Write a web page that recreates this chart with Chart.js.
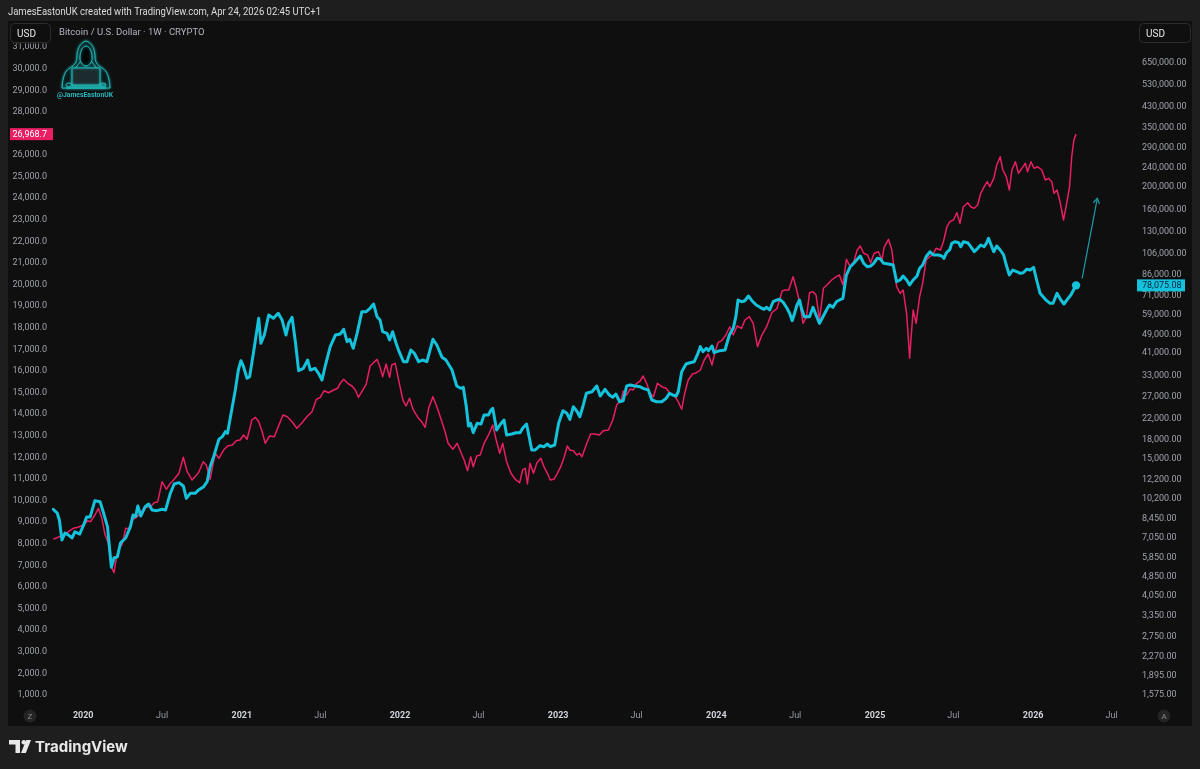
<!DOCTYPE html>
<html>
<head>
<meta charset="utf-8">
<script src="https://cdn.jsdelivr.net/npm/chart.js@4.4.1/dist/chart.umd.min.js"></script>
<style>
html,body{margin:0;padding:0;background:#1e1e1e;width:1200px;height:769px;overflow:hidden}
canvas{display:block}
</style>
</head>
<body>
<canvas id="c" width="1200" height="769"></canvas>
<script>
// ---- Data ----
const btcDates = ['2019-10-24','2019-11-02','2019-11-07','2019-11-13','2019-11-20','2019-11-28','2019-12-06','2019-12-13','2019-12-24',
'2020-01-02','2020-01-09','2020-01-17','2020-01-28','2020-02-09','2020-02-17','2020-02-26','2020-03-06','2020-03-12','2020-03-20','2020-03-27',
'2020-04-08','2020-04-19','2020-04-25','2020-05-01','2020-05-06','2020-05-13','2020-05-23','2020-05-31','2020-06-08','2020-06-19','2020-07-01',
'2020-07-09','2020-07-20','2020-07-29','2020-08-09','2020-08-19','2020-08-26','2020-09-04','2020-09-15','2020-09-23','2020-10-05','2020-10-13',
'2020-10-20','2020-10-28','2020-11-09','2020-11-17','2020-11-24','2020-11-29','2020-12-10','2020-12-17','2020-12-24','2020-12-30',
'2021-01-05','2021-01-13','2021-01-19','2021-01-30','2021-02-09','2021-02-14','2021-02-22','2021-03-04','2021-03-15','2021-03-26','2021-04-04',
'2021-04-13','2021-04-19','2021-04-27','2021-05-05','2021-05-12','2021-05-23','2021-06-02','2021-06-08','2021-06-19','2021-06-27','2021-07-05',
'2021-07-13','2021-07-24','2021-08-05','2021-08-16','2021-08-24','2021-09-01','2021-09-07','2021-09-15','2021-09-24','2021-10-05','2021-10-15',
'2021-10-24','2021-11-01','2021-11-09','2021-11-16','2021-11-22','2021-12-02','2021-12-08','2021-12-15','2021-12-23','2021-12-30',
'2022-01-09','2022-01-17','2022-01-26','2022-02-03','2022-02-13','2022-02-22','2022-03-04','2022-03-18','2022-03-27','2022-04-08','2022-04-17',
'2022-05-01','2022-05-12','2022-05-21','2022-05-27','2022-06-03','2022-06-08','2022-06-13','2022-06-19','2022-06-28','2022-07-07','2022-07-14',
'2022-07-24','2022-07-30','2022-08-03','2022-08-12','2022-08-21','2022-08-29','2022-09-04','2022-09-16','2022-09-26','2022-10-05','2022-10-11',
'2022-10-20','2022-10-26','2022-11-01','2022-11-09','2022-11-20','2022-11-29','2022-12-07','2022-12-14','2022-12-24',
'2023-01-02','2023-01-12','2023-01-21','2023-01-28','2023-02-05','2023-02-14','2023-02-20','2023-02-28','2023-03-07','2023-03-20','2023-03-31',
'2023-04-08','2023-04-19','2023-04-29','2023-05-07','2023-05-14','2023-05-23','2023-05-31','2023-06-08','2023-06-16','2023-06-27','2023-07-09',
'2023-07-16','2023-07-28','2023-08-05','2023-08-16','2023-08-28','2023-09-07','2023-09-15','2023-09-22','2023-09-30','2023-10-05','2023-10-13',
'2023-10-23','2023-11-01','2023-11-11','2023-11-18','2023-11-25','2023-12-01','2023-12-09','2023-12-14','2023-12-22','2023-12-27',
'2024-01-02','2024-01-09','2024-01-21','2024-01-31','2024-02-09','2024-02-15','2024-02-20','2024-02-28','2024-03-07','2024-03-15','2024-03-23',
'2024-04-02','2024-04-11','2024-04-20','2024-04-26','2024-05-03','2024-05-11','2024-05-20','2024-05-26','2024-06-04','2024-06-12','2024-06-18',
'2024-06-24','2024-06-29','2024-07-05','2024-07-11','2024-07-16','2024-07-22','2024-07-28','2024-08-03','2024-08-11','2024-08-18','2024-08-26',
'2024-09-03','2024-09-11','2024-09-18','2024-09-26','2024-10-04','2024-10-11','2024-10-19','2024-10-27','2024-11-05','2024-11-13','2024-11-21',
'2024-11-28','2024-12-06','2024-12-14','2024-12-22','2024-12-29',
'2025-01-06','2025-01-13','2025-01-21','2025-02-01','2025-02-12','2025-02-20','2025-02-28','2025-03-07','2025-03-15','2025-03-22','2025-03-30',
'2025-04-08','2025-04-14','2025-04-21','2025-04-29','2025-05-08','2025-05-16','2025-05-27','2025-06-04','2025-06-09','2025-06-15','2025-06-23',
'2025-06-27','2025-07-05','2025-07-13','2025-07-18','2025-07-24','2025-08-03','2025-08-10','2025-08-18','2025-08-26','2025-09-02','2025-09-10',
'2025-09-15','2025-09-20','2025-09-26','2025-10-02','2025-10-09','2025-10-17','2025-10-25','2025-10-31','2025-11-07','2025-11-15','2025-11-24',
'2025-12-02','2025-12-09','2025-12-17','2025-12-25',
'2026-01-02','2026-01-09','2026-01-17','2026-01-29','2026-02-09','2026-02-16','2026-02-25','2026-03-06','2026-03-13','2026-03-21','2026-03-29',
'2026-04-05','2026-04-10'];
const btcValues = [9240,8920,8340,6900,7370,7230,7030,7460,7300,
7960,8590,8590,10030,9930,8920,7830,5320,5810,5880,6700,
7030,7830,8750,8610,9540,8670,9470,9720,9180,9120,9240,
9180,10760,11760,11910,11540,10260,10760,10760,11100,11460,12020,
13870,15260,18000,18460,19360,19060,24570,28800,34850,38080,
35960,32190,32690,43530,57040,44960,48640,58870,57040,59830,56120,
48640,54380,57590,44960,34620,35420,38330,34850,35420,33780,31680,
36550,43530,48640,49110,51360,45650,46710,42870,49440,60750,60750,
62750,65380,57920,56120,50200,49440,46400,50200,44960,41500,
37720,37720,42180,40870,37720,38330,37720,46710,44240,39330,38330,
34850,29920,29270,29550,24570,20440,20970,19170,20970,20830,22700,
22700,23810,24200,19670,20830,21640,18760,18940,19170,19170,20000,
20830,18460,16260,16260,16940,16780,17210,16780,17050,
20970,23650,23070,21780,24570,23420,22330,24970,27910,28340,29920,
27200,28990,27460,26870,27720,25760,26010,29920,30210,29920,29720,
29270,28800,26180,25760,25760,26610,27910,27460,27200,28340,34290,
36900,37360,37720,40220,43530,41500,42870,41900,43820,41110,
41500,41900,42180,48640,51850,57920,67920,66820,67460,70560,67460,
64750,63350,62150,63350,61740,66820,67920,68370,66190,62750,59830,
55750,59430,64750,67920,62150,57920,57920,57920,63350,58870,54380,
57920,61740,64750,63350,66820,67920,69020,86170,93270,96350,100090,
103290,96350,93270,93900,96350,
101050,100500,96350,95700,94800,80850,82170,85370,82170,78340,82170,
85370,91860,94800,102600,107600,104270,104270,103290,101050,106580,110100,
116570,118360,117240,112860,118360,117240,112860,107600,111150,114700,112860,
116570,122250,114700,107600,113620,109380,104270,94800,86170,90380,88930,
87580,88080,90980,90380,
92740,82170,72390,68370,65810,65810,72390,67920,65380,68370,71230,
75190,78075.08];

const ndxDates = ['2019-10-24','2019-11-04','2019-11-16','2019-11-28','2019-12-09','2019-12-20',
'2020-01-02','2020-01-11','2020-01-18','2020-01-28','2020-02-05','2020-02-13','2020-02-20','2020-02-28','2020-03-06','2020-03-12','2020-03-18',
'2020-03-23','2020-03-31','2020-04-08','2020-04-15','2020-04-25','2020-05-03','2020-05-12','2020-05-23','2020-06-04','2020-06-13','2020-06-21',
'2020-07-01','2020-07-11','2020-07-19','2020-07-29','2020-08-09','2020-08-19','2020-08-28','2020-09-08','2020-09-15','2020-09-23','2020-10-04',
'2020-10-11','2020-10-20','2020-10-26','2020-11-01','2020-11-09','2020-11-20','2020-11-29','2020-12-10','2020-12-19','2020-12-28',
'2021-01-05','2021-01-13','2021-01-19','2021-01-24','2021-02-01','2021-02-09','2021-02-17','2021-02-24','2021-03-06','2021-03-17','2021-03-26',
'2021-04-06','2021-04-16','2021-04-27','2021-05-08','2021-05-19','2021-05-31','2021-06-12','2021-06-22','2021-07-01','2021-07-10','2021-07-20',
'2021-08-01','2021-08-10','2021-08-16','2021-08-24','2021-09-02','2021-09-12','2021-09-20','2021-09-27','2021-10-08','2021-10-15','2021-10-24',
'2021-11-01','2021-11-09','2021-11-15','2021-11-22','2021-11-30','2021-12-08','2021-12-13','2021-12-21','2021-12-28',
'2022-01-08','2022-01-15','2022-01-23','2022-01-31','2022-02-10','2022-02-20','2022-02-28','2022-03-08','2022-03-18','2022-03-27','2022-04-05',
'2022-04-15','2022-04-22','2022-05-03','2022-05-13','2022-05-21','2022-05-29','2022-06-06','2022-06-13','2022-06-19','2022-06-27','2022-07-05',
'2022-07-14','2022-07-26','2022-08-03','2022-08-11','2022-08-19','2022-08-26','2022-09-04','2022-09-14','2022-09-24','2022-10-04','2022-10-11',
'2022-10-17','2022-10-22','2022-10-28','2022-11-05','2022-11-13','2022-11-22','2022-11-29','2022-12-07','2022-12-14','2022-12-22','2022-12-30',
'2023-01-07','2023-01-15','2023-01-22','2023-01-28','2023-02-05','2023-02-13','2023-02-19','2023-02-25','2023-03-08','2023-03-17','2023-03-27',
'2023-04-06','2023-04-15','2023-04-27','2023-05-07','2023-05-16','2023-05-27','2023-05-31','2023-06-08','2023-06-16','2023-06-23','2023-07-01',
'2023-07-09','2023-07-16','2023-07-24','2023-08-01','2023-08-09','2023-08-18','2023-08-28','2023-09-07','2023-09-16','2023-09-25','2023-10-05',
'2023-10-13','2023-10-20','2023-10-28','2023-11-07','2023-11-16','2023-11-25','2023-12-04','2023-12-13','2023-12-22','2023-12-29',
'2024-01-05','2024-01-13','2024-01-23','2024-02-01','2024-02-09','2024-02-18','2024-02-28','2024-03-07','2024-03-17','2024-03-26','2024-04-05',
'2024-04-15','2024-04-26','2024-05-08','2024-05-20','2024-06-01','2024-06-08','2024-06-16','2024-06-26','2024-07-04','2024-07-11','2024-07-19',
'2024-07-27','2024-08-03','2024-08-11','2024-08-18','2024-08-26','2024-09-04','2024-09-12','2024-09-23','2024-10-04','2024-10-11','2024-10-19',
'2024-10-27','2024-11-05','2024-11-13','2024-11-21','2024-11-28','2024-12-06','2024-12-15','2024-12-22','2024-12-30',
'2025-01-09','2025-01-17','2025-01-22','2025-02-01','2025-02-09','2025-02-14','2025-02-20','2025-02-28','2025-03-07','2025-03-15','2025-03-22',
'2025-03-30','2025-04-06','2025-04-14','2025-04-21','2025-04-29','2025-05-07','2025-05-14','2025-05-22','2025-06-01','2025-06-08','2025-06-16',
'2025-06-23','2025-07-01','2025-07-09','2025-07-16','2025-07-24','2025-08-03','2025-08-10','2025-08-18','2025-08-26','2025-09-02','2025-09-10',
'2025-09-17','2025-09-23','2025-10-02','2025-10-09','2025-10-17','2025-10-23','2025-10-31','2025-11-07','2025-11-13','2025-11-21','2025-11-28',
'2025-12-06','2025-12-14','2025-12-19','2025-12-27',
'2026-01-03','2026-01-11','2026-01-21','2026-01-29','2026-02-05','2026-02-13','2026-02-18','2026-02-25','2026-03-04','2026-03-12','2026-03-18',
'2026-03-26','2026-03-31','2026-04-05','2026-04-10'];
const ndxValues = [8209,8302,8408,8561,8718,8765,
8871,9070,9024,9334,9644,9181,8454,8024,6940,6662,7403,
7746,7991,8718,8700,9135,9227,9413,9690,9718,9903,9950,
10876,10524,10769,10987,11265,12005,11339,10955,11107,11292,11802,
11649,10987,11649,12191,11959,12343,12529,12575,12774,12807,
13038,12839,13302,13733,13857,13654,13191,12654,12992,12959,13422,
13964,13885,13654,13348,13580,13885,14117,14691,14784,15089,14996,
15122,15200,15432,15617,15432,15307,15122,14784,15154,15399,16233,
16385,16543,16233,15737,16325,15710,16279,16358,15663,
14626,14381,14737,14228,13885,13654,13394,14274,14811,14348,13811,
13191,12654,12376,12654,12265,11881,11385,12033,11570,12066,12112,
12654,13117,13501,12807,12191,12654,11802,11265,10987,10829,11418,
11496,10769,11728,11265,11755,11959,11570,11265,10955,10987,11265,
11570,12033,12529,12343,12311,12112,12191,12033,12654,13084,13084,
13038,13237,13270,13733,14427,14691,15075,14890,15168,15122,15432,
15538,15770,15432,14969,14811,15432,15274,15200,14969,14890,14580,
14228,14969,15585,15862,15922,16048,16511,16788,16279,16895,
17311,17404,17668,18052,17668,18085,17978,18363,18515,18210,17126,
17668,18052,18700,18904,19719,19752,19752,20367,19784,19210,18210,
18515,19626,19673,19520,18363,19830,19983,20215,20367,20446,19983,
21173,20830,21062,21604,21789,21451,21372,21015,21451,
21525,21140,21728,22099,21604,20756,19904,19599,19752,18673,16589,
18826,18210,19441,20062,21140,21293,21372,21682,21604,21988,22682,
22914,22993,23330,22840,23608,23793,23608,23534,23687,24229,24534,
24766,24534,24923,25539,25923,25308,24997,24382,25308,25692,25155,
25386,25618,25229,25692,
25386,25460,25308,24845,24923,24766,24229,24382,23840,22993,23608,
24534,25923,26696,26968.7];

// Projection arrow (drawn on the BTC scale)
const arrowDates = ['2026-04-24','2026-05-29'];
const arrowValues = [83500, 179000];

// Axis ticks
const leftTicks = [1000,2000,3000,4000,5000,6000,7000,8000,9000,10000,11000,12000,13000,14000,15000,16000,17000,18000,19000,20000,21000,22000,23000,24000,25000,26000,27000,28000,29000,30000,31000];
const rightTicks = [1575,1895,2270,2750,3350,4050,4850,5850,7050,8450,10200,12200,15000,18000,22000,27000,33000,41000,49000,59000,71000,86000,106000,130000,160000,200000,240000,290000,350000,430000,530000,650000];
const xTickDates = ['2020-01-01','2020-07-01','2021-01-01','2021-07-01','2022-01-01','2022-07-01','2023-01-01','2023-07-01','2024-01-01','2024-07-01','2025-01-01','2025-07-01','2026-01-01','2026-07-01'];
const xTickLabels = ['2020','Jul','2021','Jul','2022','Jul','2023','Jul','2024','Jul','2025','Jul','2026','Jul'];

// ---- Styling ----
const PINK = '#e91e63', CYAN = '#14c2db', ARROW = '#1c9ca9';
const OUTER = '#1e1e1e', PANEL = '#0f0f0f';
const TXT = '#9fa2ab';
const FONT = 'Roboto, "Liberation Sans", sans-serif';

const chrome = {
  id: 'chrome',
  beforeDraw(chart) {
    const c = chart.ctx;
    c.save();
    c.fillStyle = OUTER; c.fillRect(0, 0, 1200, 769);
    c.fillStyle = PANEL; c.fillRect(8, 21, 1184, 705);
    c.restore();
  },
  afterDraw(chart) {
    const c = chart.ctx;
    c.save();
    // cut left axis top
    c.fillStyle = PANEL; c.fillRect(8, 21, 44, 22.5);
    // header
    c.fillStyle = '#dcdcdc'; c.font = '10.5px ' + FONT; c.textBaseline = 'alphabetic'; c.textAlign = 'left';
    c.fillText('JamesEastonUK created with TradingView.com, Apr 24, 2026 02:45 UTC+1', 8, 15, 313);
    // title
    c.fillStyle = '#b2b5be'; c.font = '9.5px ' + FONT;
    c.fillText('Bitcoin / U.S. Dollar \u00b7 1W \u00b7 CRYPTO', 59, 35);
    // USD boxes
    function box(x, y, w, h) {
      c.beginPath(); c.roundRect(x + 0.5, y + 0.5, w, h, 4);
      c.fillStyle = PANEL; c.fill(); c.strokeStyle = '#2c2c2c'; c.lineWidth = 1; c.stroke();
    }
    box(10, 23, 40, 19); box(1139, 23, 51, 19);
    c.fillStyle = '#e6e6e6'; c.font = '10px ' + FONT;
    c.fillText('USD', 17, 36.5); c.fillText('USD', 1146, 36.5);
    // logo (hooded figure)
    drawHood(c);
    // price labels
    const yL = chart.scales.yL, yR = chart.scales.yR;
    const lp = ndxValues[ndxValues.length - 1], lb = btcValues[btcValues.length - 1];
    let py = yL.getPixelForValue(lp);
    c.fillStyle = PINK; c.fillRect(10, py - 6, 43, 12);
    c.fillStyle = '#ffffff'; c.font = '9px ' + FONT; c.textAlign = 'right'; c.textBaseline = 'middle';
    c.fillText(lp.toLocaleString('en-US', {minimumFractionDigits: 1, maximumFractionDigits: 1}), 47, py + 0.5);
    let by = yR.getPixelForValue(lb);
    c.fillStyle = CYAN; c.fillRect(1137, by - 6, 48, 12);
    c.fillStyle = '#0b2240'; c.textAlign = 'left';
    c.fillText(lb.toLocaleString('en-US', {minimumFractionDigits: 2, maximumFractionDigits: 2}), 1142, by + 0.5);
    // Z / A buttons
    function circ(x, y, t) {
      c.beginPath(); c.arc(x, y, 6.5, 0, Math.PI * 2); c.fillStyle = '#242424'; c.fill();
      c.fillStyle = '#8c8c8c'; c.font = '8px ' + FONT; c.textAlign = 'center'; c.textBaseline = 'middle';
      c.fillText(t, x, y + 0.5);
    }
    circ(30, 716, 'Z'); circ(1164, 716, 'A');
    // arrow head
    const am = chart.getDatasetMeta(2);
    if (am && am.data.length > 1) {
      const p0 = am.data[0], p1 = am.data[1];
      const ang = Math.atan2(p1.y - p0.y, p1.x - p0.x);
      c.strokeStyle = ARROW; c.lineWidth = 1.2;
      c.beginPath();
      c.moveTo(p1.x - 6 * Math.cos(ang - 0.55), p1.y - 6 * Math.sin(ang - 0.55));
      c.lineTo(p1.x, p1.y);
      c.lineTo(p1.x - 6 * Math.cos(ang + 0.55), p1.y - 6 * Math.sin(ang + 0.55));
      c.stroke();
    }
    // footer TradingView logo
    c.fillStyle = '#e8e8e8';
    c.fillRect(9, 740, 11, 4.5);
    c.fillRect(15.5, 740, 4.5, 13);
    c.beginPath(); c.arc(23.8, 742.3, 2.3, 0, Math.PI * 2); c.fill();
    c.beginPath(); c.moveTo(21, 753); c.lineTo(25.8, 753); c.lineTo(31, 740); c.lineTo(26.2, 740); c.closePath(); c.fill();
    c.font = 'bold 15px Inter, ' + FONT; c.textAlign = 'left'; c.textBaseline = 'alphabetic';
    c.fillText('TradingView', 35, 752);
    c.restore();
  }
};

function drawHood(c) {
  const T = '#22b8b8';
  c.save();
  c.shadowColor = 'rgba(40,210,210,0.7)'; c.shadowBlur = 3;
  c.strokeStyle = T; c.lineWidth = 1; c.lineJoin = 'round';
  // outer hood + shoulders
  c.beginPath();
  c.moveTo(86, 41);
  c.bezierCurveTo(80, 43, 77, 49, 77, 57);
  c.bezierCurveTo(77, 62, 75, 65, 70, 68);
  c.bezierCurveTo(65, 71, 63, 76, 62, 88);
  c.lineTo(110, 88);
  c.bezierCurveTo(109, 76, 107, 71, 102, 68);
  c.bezierCurveTo(97, 65, 95, 62, 95, 57);
  c.bezierCurveTo(95, 49, 92, 43, 86, 41);
  c.closePath();
  c.fillStyle = '#0b1719'; c.fill(); c.stroke();
  // inner hood opening
  c.beginPath();
  c.moveTo(86, 46);
  c.bezierCurveTo(82, 47, 80, 52, 80, 58);
  c.bezierCurveTo(80, 62, 82, 65, 86, 66);
  c.bezierCurveTo(90, 65, 92, 62, 92, 58);
  c.bezierCurveTo(92, 52, 90, 47, 86, 46);
  c.closePath();
  c.fillStyle = '#030606'; c.fill(); c.stroke();
  // drape lines
  c.beginPath();
  c.moveTo(80, 62); c.lineTo(74, 70);
  c.moveTo(92, 62); c.lineTo(98, 70);
  c.stroke();
  // laptop screen
  c.beginPath(); c.rect(72, 68, 28, 18);
  c.fillStyle = '#1c2b2e'; c.fill(); c.stroke();
  // hands / base
  c.beginPath(); c.moveTo(66, 88); c.lineTo(106, 88); c.stroke();
  c.beginPath(); c.ellipse(69, 85, 3, 2, 0, 0, Math.PI * 2); c.ellipse(103, 85, 3, 2, 0, 0, Math.PI * 2); c.stroke();
  c.restore();
  c.save();
  c.fillStyle = '#26b9c0'; c.font = 'bold 7.5px ' + FONT; c.textAlign = 'left'; c.textBaseline = 'alphabetic';
  c.fillText('@JamesEastonUK', 57, 97, 56);
  c.restore();
}

const toPts = (dates, vals) => dates.map((d, i) => ({x: Date.parse(d), y: vals[i]}));
const lastIdx = btcDates.length - 1;

new Chart(document.getElementById('c').getContext('2d'), {
  type: 'line',
  data: {
    datasets: [
      {label: 'BTC', data: toPts(btcDates, btcValues), yAxisID: 'yR', borderColor: CYAN, borderWidth: 3,
       borderJoinStyle: 'round', borderCapStyle: 'round', tension: 0,
       pointRadius: ctx => ctx.dataIndex === lastIdx ? 4.2 : 0, pointBackgroundColor: CYAN, pointBorderWidth: 0, pointHoverRadius: 0},
      {label: 'NDX', data: toPts(ndxDates, ndxValues), yAxisID: 'yL', borderColor: PINK, borderWidth: 1.5,
       borderJoinStyle: 'round', tension: 0, pointRadius: 0, pointHoverRadius: 0},
      {label: 'Arrow', data: toPts(arrowDates, arrowValues), yAxisID: 'yR', borderColor: ARROW, borderWidth: 1.2,
       tension: 0, pointRadius: 0, pointHoverRadius: 0}
    ]
  },
  options: {
    responsive: false, animation: false, devicePixelRatio: 1,
    events: [],
    layout: {padding: {left: 8, right: 8, top: 43, bottom: 44}},
    plugins: {legend: {display: false}, tooltip: {enabled: false}},
    scales: {
      x: {
        type: 'linear', min: Date.parse('2019-10-21'), max: Date.parse('2026-08-24'),
        grid: {display: false, drawTicks: false}, border: {display: false},
        afterFit: s => { s.height = 20; },
        afterBuildTicks: s => { s.ticks = xTickDates.map(d => ({value: Date.parse(d)})); },
        ticks: {
          autoSkip: false, maxRotation: 0, padding: 5,
          callback: (v, i) => xTickLabels[i],
          color: ctx => (xTickLabels[ctx.index] === 'Jul' ? '#9a9da6' : '#d1d4dc'),
          font: ctx => ({family: FONT, size: 9, weight: xTickLabels[ctx.index] === 'Jul' ? 'normal' : 'bold'})
        }
      },
      yL: {
        type: 'linear', position: 'left', min: 537, max: 31188,
        grid: {display: false, drawTicks: false}, border: {display: false},
        afterFit: s => { s.width = 44; },
        afterBuildTicks: s => { s.ticks = leftTicks.map(v => ({value: v})); },
        ticks: {
          padding: 5, color: TXT, font: {family: FONT, size: 9},
          callback: v => Number(v).toLocaleString('en-US', {minimumFractionDigits: 1, maximumFractionDigits: 1})
        }
      },
      yR: {
        type: 'logarithmic', position: 'right', min: 1431, max: 786500,
        grid: {display: false, drawTicks: false}, border: {display: false},
        afterFit: s => { s.width = 57; },
        afterBuildTicks: s => { s.ticks = rightTicks.map(v => ({value: v})); },
        ticks: {
          padding: 7, color: TXT, font: {family: FONT, size: 9},
          callback: v => Number(v).toLocaleString('en-US', {minimumFractionDigits: 2, maximumFractionDigits: 2})
        }
      }
    }
  },
  plugins: [chrome]
});
</script>
</body>
</html>
